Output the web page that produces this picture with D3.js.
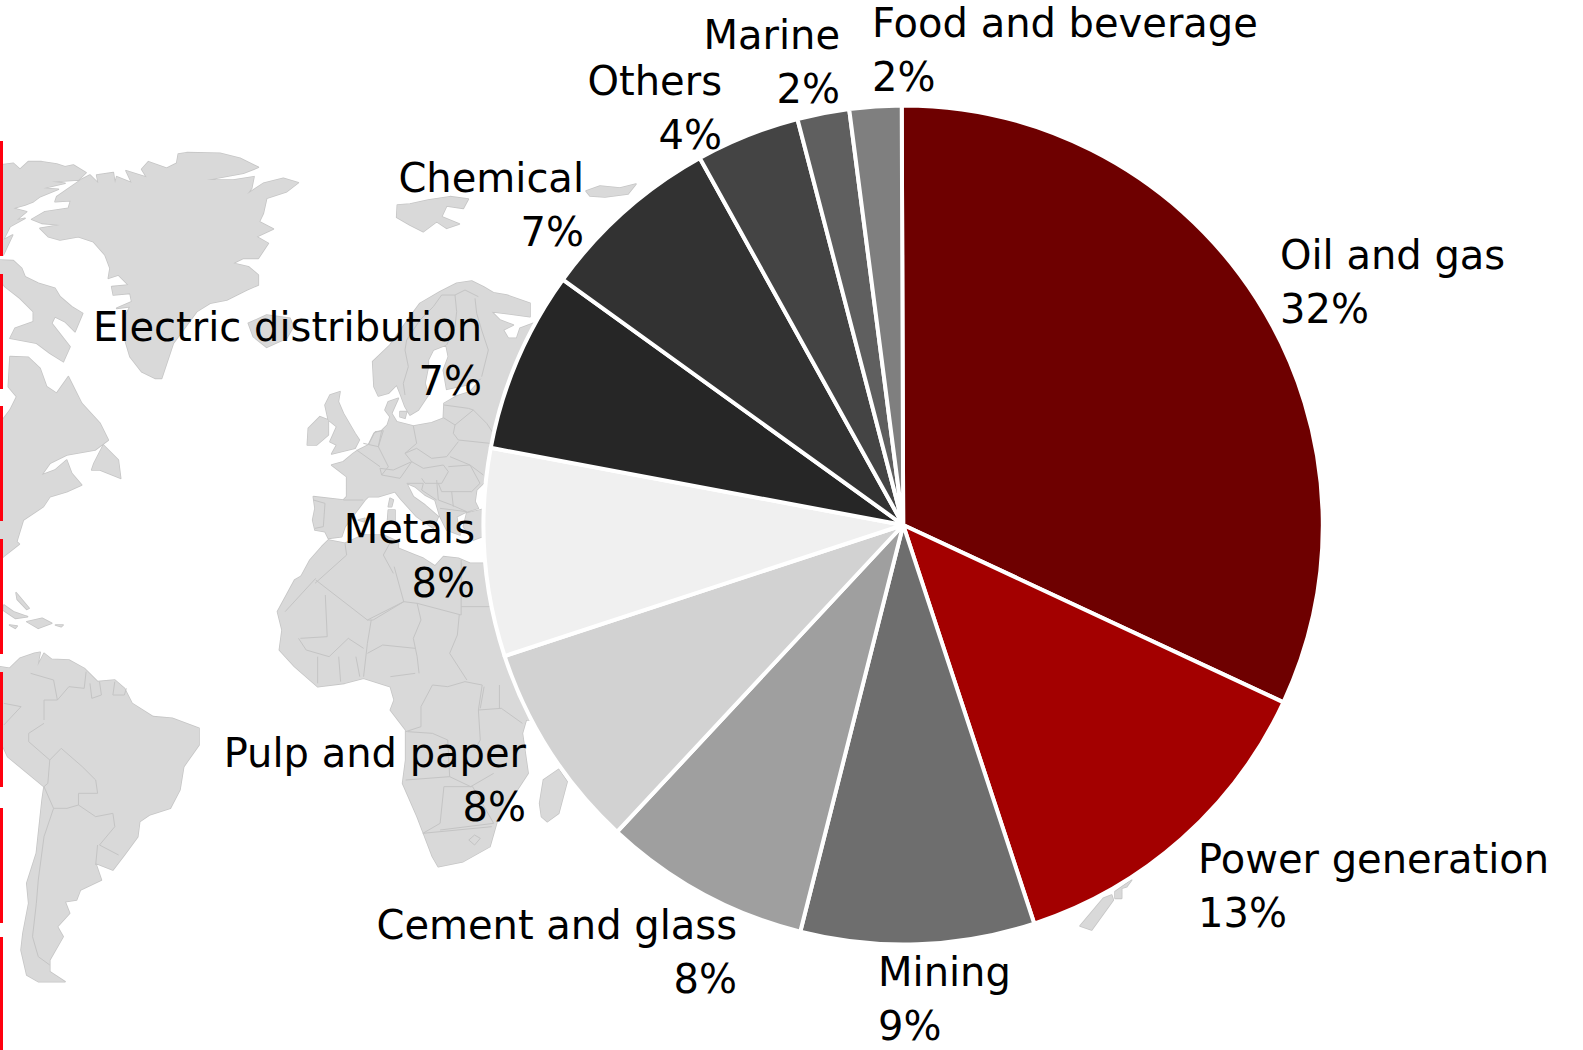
<!DOCTYPE html>
<html>
<head>
<meta charset="utf-8">
<title>Revenue by industry</title>
<script src="https://cdn.jsdelivr.net/npm/d3@7/dist/d3.min.js"></script>
<style>
html, body { margin: 0; padding: 0; background: #fff; }
svg { display: block; }
text { font-family: "DejaVu Sans", sans-serif; font-size: 40px; fill: #000; }
</style>
</head>
<body>
<svg id="chart" width="1583" height="1050"></svg>
<script>
// Industry shares, in percent, clockwise from twelve o'clock.
const industries = ["Oil and gas", "Power generation", "Mining", "Cement and glass", "Pulp and paper", "Metals", "Electric distribution", "Chemical", "Others", "Marine", "Food and beverage"];
const shares = [32, 13, 9, 8, 8, 8, 7, 7, 4, 2, 2];
const sliceColors = ["#6e0000", "#a30000", "#6e6e6e", "#9f9f9f", "#d2d2d2", "#f0f0f0", "#262626", "#323232", "#444444", "#5f5f5f", "#7f7f7f"];

// Label anchor and first-line baseline for each slice.
const labelAnchors = ["start", "start", "start", "end", "end", "end", "end", "end", "end", "end", "start"];
const labelX = [1280, 1198, 878, 737, 526, 475, 482, 584, 722, 840, 872];
const labelY = [269, 873, 986, 939, 767, 543, 341, 192, 95, 49, 37];
const lineStep = 54;

// Vertical red rule at the far left of the page: start and end of each dash.
const ruleDashes = [[141, 256], [274, 389], [406, 521], [539, 654], [672, 787], [808, 923], [937, 1050]];

// Background world map outlines, stored in sheet units (see the sheet table below).
// Arctic and North Atlantic.
const northLand = [
  [[0,105],[40,100],[60,118],[85,95],[125,95],[170,102],[195,110],[220,105],[258,128],[235,150],[155,155],[195,160],[130,175],[175,178],[120,200],[100,215],[75,225],[40,235],[80,245],[50,270],[75,265],[30,290],[10,330],[38,315],[10,375],[0,375]],
  [[95,268],[135,245],[205,235],[212,212],[165,215],[170,200],[245,148],[270,135],[295,160],[290,135],[340,128],[345,160],[350,140],[395,158],[378,122],[440,142],[425,118],[445,95],[500,115],[530,100],[535,72],[560,68],[660,70],[720,85],[775,112],[730,130],[620,150],[700,150],[762,140],[755,175],[742,192],[790,160],[850,145],[895,158],[860,185],[800,205],[790,250],[778,275],[820,297],[770,320],[805,340],[775,385],[730,385],[700,400],[745,410],[775,435],[775,465],[740,480],[680,510],[630,520],[590,545],[520,640],[500,700],[485,745],[465,745],[425,725],[390,680],[375,630],[375,560],[390,530],[350,535],[395,515],[390,490],[340,495],[335,470],[385,465],[355,435],[325,445],[330,415],[315,375],[280,335],[235,320],[180,330],[145,320],[120,295],[180,285],[125,280]],
  [[745,580],[800,555],[870,565],[880,590],[860,625],[800,652],[760,620]],
  [[0,390],[40,392],[65,415],[75,440],[115,460],[165,475],[180,500],[215,530],[248,550],[225,605],[195,575],[165,560],[155,580],[210,650],[190,695],[150,670],[110,640],[30,625],[45,595],[100,575],[100,545],[60,505],[15,470],[0,450]],
  [[30,680],[85,682],[120,715],[140,770],[170,790],[205,740],[245,820],[300,880],[325,930],[285,960],[200,975],[150,1000],[125,1035],[165,1020],[200,990],[215,1030],[245,1065],[200,1085],[150,1100],[130,1130],[70,1170],[50,1235],[58,1242],[10,1280],[0,1290],[0,880],[30,840],[50,800],[25,770]],
  [[310,945],[355,990],[362,1045],[300,1020],[275,1020],[282,1000]],
  [[1192,225],[1230,222],[1285,210],[1350,200],[1405,207],[1390,235],[1340,228],[1325,260],[1378,282],[1340,295],[1310,275],[1270,305],[1230,285],[1190,262]]
];

// Europe and the Mediterranean coast of Africa.
const europeLand = [
  [[175,540],[205,525],[222,490],[245,482],[262,465],[270,440],[255,420],[265,395],[295,385],[275,430],[290,455],[340,468],[395,458],[430,445],[432,400],[470,378],[510,365],[545,325],[500,345],[440,358],[430,300],[445,260],[438,225],[400,240],[385,270],[385,290],[375,340],[385,375],[375,390],[355,420],[330,435],[315,410],[300,370],[290,345],[265,370],[235,378],[222,350],[218,275],[270,225],[330,140],[360,100],[420,65],[470,40],[515,33],[550,50],[580,68],[620,75],[690,100],[690,140],[575,125],[600,150],[640,165],[610,180],[625,205],[650,205],[660,175],[700,160],[760,260],[760,640],[555,635],[530,660],[525,695],[535,715],[500,725],[470,740],[480,795],[440,780],[420,740],[405,690],[375,675],[345,650],[320,640],[340,680],[375,705],[415,740],[400,775],[350,740],[300,685],[285,665],[235,680],[205,680],[195,690],[165,730],[135,770],[125,800],[85,805],[75,785],[45,780],[38,750],[45,715],[40,680],[130,690],[140,680],[140,620],[95,585],[130,575],[160,550]],
  [[500,730],[560,715],[560,795],[520,810],[490,770]],
  [[90,375],[120,365],[115,395],[130,430],[165,490],[178,510],[165,535],[95,552],[110,525],[90,515],[110,470],[85,450],[75,405]],
  [[25,475],[60,440],[85,450],[85,495],[50,525],[22,525]],
  [[300,425],[320,425],[315,445],[300,440]],
  [[270,685],[280,690],[275,710],[265,710]],
  [[265,720],[285,720],[285,760],[262,760]],
  [[175,750],[195,745],[192,755]],
  [[0,925],[30,870],[65,830],[85,810],[135,820],[190,795],[250,795],[295,815],[295,835],[345,855],[370,865],[405,888],[430,860],[475,865],[510,880],[600,880],[620,1000],[560,1100],[0,950]]
];
const europeBorders = [
  [[425,75],[400,110],[360,150],[320,210],[315,240],[325,290],[310,340],[315,375]],
  [[465,75],[470,125],[465,170],[440,225]],
  [[425,75],[465,75],[495,60],[535,80]],
  [[525,85],[530,130],[545,180],[565,240],[545,320]],
  [[432,405],[505,415],[520,420]],
  [[430,443],[465,465],[520,420],[560,460],[580,490]],
  [[465,465],[460,490],[475,510],[570,520]],
  [[340,468],[350,520],[315,550],[350,535],[395,565],[440,560],[475,515]],
  [[245,482],[235,530],[265,590],[245,615],[300,625],[335,575],[315,550]],
  [[205,525],[225,485],[250,482],[235,530],[190,520]],
  [[170,540],[240,590]],
  [[245,615],[240,595],[280,600],[335,575],[370,595],[430,585],[445,605],[425,640],[375,640],[365,625]],
  [[445,590],[510,585],[540,640],[515,665],[425,665],[415,640]],
  [[450,560],[510,585],[550,615]],
  [[320,640],[370,640],[365,660],[410,690]],
  [[410,630],[415,690],[455,705],[500,725]],
  [[455,665],[460,710]],
  [[420,715],[500,725]],
  [[40,690],[75,700],[70,770],[45,775]],
  [[130,690],[190,690]],
  [[135,820],[140,855],[45,940]],
  [[275,810],[250,855],[280,910]],
  [[485,880],[485,940]]
];

// Caribbean, South America and sub-Saharan Africa.
const southLand = [
  [[10,135],[35,155],[72,170],[40,175],[8,150]],
  [[70,185],[110,175],[135,190],[100,205]],
  [[25,195],[45,198],[40,205]],
  [[145,195],[165,195],[160,200]],
  [[42,98],[52,112],[76,145],[70,148],[45,118]],
  [[0,320],[25,325],[52,295],[90,280],[105,277],[98,318],[115,280],[135,298],[180,300],[220,325],[255,365],[300,360],[325,385],[345,430],[400,470],[450,475],[520,505],[520,555],[480,620],[470,690],[445,745],[390,765],[365,785],[360,830],[325,885],[295,930],[250,910],[265,960],[210,990],[200,1020],[170,1025],[182,1060],[150,1100],[165,1130],[130,1200],[130,1235],[170,1265],[100,1265],[70,1245],[55,1170],[60,1120],[75,1030],[70,970],[95,880],[110,720],[115,680],[20,590],[8,560],[0,500]],
  [[800,40],[770,60],[725,155],[737,210],[730,270],[770,320],[830,380],[900,370],[950,355],[1020,380],[1030,420],[1020,450],[1060,510],[1060,600],[1052,670],[1090,770],[1130,890],[1145,920],[1210,905],[1280,860],[1300,780],[1380,640],[1365,520],[1375,480],[1450,480],[1400,200],[1380,40]],
  [[1460,628],[1482,665],[1460,760],[1430,785],[1415,770],[1410,730],[1420,660]]
];
const southBorders = [
  [[80,340],[140,360],[150,420],[115,420],[115,480]],
  [[75,520],[115,490]],
  [[75,520],[75,545],[110,580],[130,600],[160,565],[215,620],[250,660],[255,700],[205,700],[205,735],[250,770],[295,760],[300,800],[260,855],[310,885]],
  [[150,420],[180,380],[220,385],[225,335]],
  [[235,370],[240,415],[265,405],[260,365]],
  [[300,365],[295,405],[325,405],[330,385]],
  [[10,430],[55,440],[10,495]],
  [[130,600],[125,670],[115,680]],
  [[115,680],[140,745],[115,830],[100,960],[95,1030],[85,1130],[100,1190],[130,1215]],
  [[140,745],[175,745],[205,735]],
  [[255,855],[250,915]],
  [[825,55],[745,155]],
  [[825,60],[960,180],[1055,125],[1030,20]],
  [[850,105],[855,230],[785,235]],
  [[960,180],[975,180],[1055,125],[1090,130],[1100,180],[1080,235],[1090,290],[1095,340]],
  [[1090,130],[1205,165],[1205,0]],
  [[1205,140],[1280,140]],
  [[1200,165],[1195,225],[1175,280],[1220,360]],
  [[970,180],[960,250],[950,350]],
  [[1085,265],[1000,255],[960,280]],
  [[830,290],[830,370]],
  [[885,290],[890,365]],
  [[930,290],[940,350]],
  [[780,235],[800,270],[860,290],[910,235],[950,265]],
  [[1085,340],[1020,350]],
  [[1130,375],[1100,440],[1100,500],[1060,515]],
  [[1130,375],[1170,380],[1215,365],[1260,375],[1250,450],[1255,540],[1240,570]],
  [[1250,450],[1310,445],[1365,490]],
  [[1265,380],[1255,445]],
  [[1305,375],[1305,445]],
  [[1065,515],[1130,520],[1170,540],[1175,650],[1060,660]],
  [[1175,650],[1230,680],[1290,640]],
  [[1160,680],[1150,790],[1105,820]],
  [[1160,680],[1235,680],[1290,790],[1150,810]],
  [[1105,820],[1285,800]],
  [[1225,840],[1240,825],[1255,835],[1240,855],[1225,840]]
];

// Small islands that poke out around the pie.
const arcticIslands = [[[586,191],[600,186],[620,188],[636,184],[628,194],[605,197],[590,196]]];
const newZealand = [
  [[335,180],[320,200],[305,205],[305,235],[285,235],[285,215]],
  [[275,225],[250,235],[180,318],[215,330],[280,240]]
];

// Each sheet has its own planar scale and page origin.
const sheets = [
  { land: northLand, borders: [], scaleX: 1 / 3, scaleY: 1 / 3, x0: 0, y0: 130 },
  { land: europeLand, borders: europeBorders, scaleX: 1 / 3, scaleY: 1 / 3, x0: 300, y0: 270 },
  { land: southLand, borders: southBorders, scaleX: 1 / 2.613, scaleY: 1 / 3, x0: 0, y0: 560 },
  { land: arcticIslands, borders: [], scaleX: 1, scaleY: 1, x0: 0, y0: 0 },
  { land: newZealand, borders: [], scaleX: 1 / 3, scaleY: 1 / 3, x0: 1020, y0: 820 }
];

const svg = d3.select("#chart");
const center = [903.2, 525];
const radius = 419.6;
const ring = pts => pts.concat([pts[0]]);
const sheetPath = s => d3.geoPath(d3.geoTransform({
  point(x, y) { this.stream.point(s.x0 + x * s.scaleX, s.y0 + y * s.scaleY); }
}));
const landOf = s => ({ type: "MultiPolygon", coordinates: s.land.map(p => [ring(p)]) });

// Map: coast strokes first, then fills on top so overlapping sheets read as one
// landmass, then the national borders.
const mapLayer = svg.append("g").attr("class", "map");
mapLayer.selectAll("path.coast").data(sheets).join("path")
  .attr("class", "coast")
  .attr("d", s => sheetPath(s)(landOf(s)))
  .attr("fill", "none")
  .attr("stroke", "#c6c6c6")
  .attr("stroke-width", 1.6)
  .attr("stroke-linejoin", "round");
mapLayer.selectAll("path.land").data(sheets).join("path")
  .attr("class", "land")
  .attr("d", s => sheetPath(s)(landOf(s)))
  .attr("fill", "#d9d9d9");
mapLayer.selectAll("path.border").data(sheets.filter(s => s.borders.length)).join("path")
  .attr("class", "border")
  .attr("d", s => sheetPath(s)({ type: "MultiLineString", coordinates: s.borders }))
  .attr("fill", "none")
  .attr("stroke", "#c4c4c4")
  .attr("stroke-width", 1);

// Left rule.
svg.append("g").attr("class", "rule")
  .selectAll("rect")
  .data(ruleDashes)
  .join("rect")
  .attr("x", 0)
  .attr("width", 3)
  .attr("y", d => d[0])
  .attr("height", d => d[1] - d[0])
  .attr("fill", "#ff000f");

// Pie slices, turned a hair anticlockwise.
const turn = -0.0035;
const pie = d3.pie().sort(null).value(d => d).startAngle(turn).endAngle(2 * Math.PI + turn);
const arc = d3.arc().innerRadius(0).outerRadius(radius);
svg.append("g")
  .attr("class", "slices")
  .attr("transform", `translate(${center[0]},${center[1]})`)
  .selectAll("path")
  .data(pie(shares))
  .join("path")
  .attr("d", arc)
  .attr("fill", (d, i) => sliceColors[i])
  .attr("stroke", "#fff")
  .attr("stroke-width", 4)
  .attr("stroke-linejoin", "round");

// Two-line labels: industry name, then its share.
const labels = svg.append("g").attr("class", "labels")
  .selectAll("text")
  .data(industries)
  .join("text")
  .attr("text-anchor", (d, i) => labelAnchors[i])
  .attr("x", (d, i) => labelX[i])
  .attr("y", (d, i) => labelY[i]);
labels.append("tspan").text(d => d);
labels.append("tspan")
  .attr("x", (d, i) => labelX[i])
  .attr("dy", lineStep)
  .text((d, i) => shares[i] + "%");
</script>
</body>
</html>
